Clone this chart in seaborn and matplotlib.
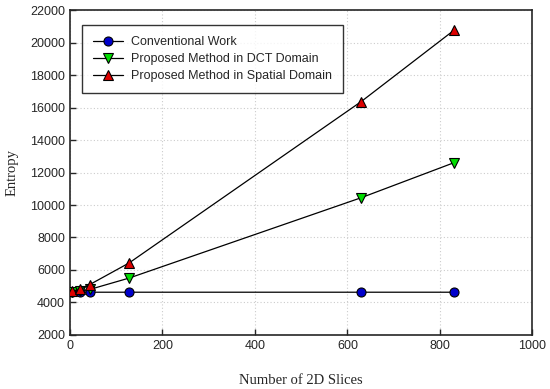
import numpy as np
import pandas as pd
import matplotlib
matplotlib.use("Agg")
import matplotlib.pyplot as plt
import seaborn as sns

# Data
slices = [5, 23, 43, 128, 630, 830]
conventional = [4620, 4630, 4630, 4630, 4630, 4630]
dct_domain = [4620, 4700, 4800, 5500, 10450, 12600]
spatial_domain = [4680, 4800, 5100, 6430, 16370, 20750]

series_names = ["Conventional Work",
                "Proposed Method in DCT Domain",
                "Proposed Method in Spatial Domain"]
series_values = [conventional, dct_domain, spatial_domain]
markers = ["o", "v", "^"]
face_colors = ["#0000cc", "#00dd00", "#dd0000"]

x_ticks = [0, 200, 400, 600, 800, 1000]
y_ticks = list(range(2000, 22001, 2000))

sns.set_style("ticks")
plt.rcParams["font.family"] = ["Liberation Sans", "DejaVu Sans"]

fig, ax = plt.subplots(figsize=(5.5, 3.89), dpi=100)
fig.subplots_adjust(left=0.127, right=0.968, bottom=0.139, top=0.974)

for name, vals, mk, fc in zip(series_names, series_values, markers, face_colors):
    df = pd.DataFrame({"x": slices, "y": vals})
    sns.lineplot(data=df, x="x", y="y", ax=ax, color="black", linewidth=0.9,
                 marker=mk, markersize=6.5, markerfacecolor=fc,
                 markeredgecolor="black", markeredgewidth=0.8,
                 label=name, zorder=3)

ax.set_xlim(0, 1000)
ax.set_ylim(2000, 22000)
ax.set_xticks(x_ticks)
ax.set_yticks(y_ticks)
ax.tick_params(direction="in", length=4, width=1, labelsize=9,
               top=False, right=False)
ax.grid(True, color="#cccccc", linestyle=(0, (1, 2)), linewidth=0.8)
for s in ax.spines.values():
    s.set_linewidth(1.2)
    s.set_visible(True)

ax.set_xlabel("Number of 2D Slices", family=["Liberation Serif"], fontsize=10.5, labelpad=16)
ax.set_ylabel("Entropy", family=["Liberation Serif"], fontsize=10.5, labelpad=8)

leg = ax.legend(loc="upper left", bbox_to_anchor=(0.026, 0.955), fontsize=9,
                frameon=True, fancybox=False, edgecolor="black",
                borderpad=0.9, handlelength=2.4, handletextpad=0.6,
                labelspacing=0.4, borderaxespad=0)
leg.get_frame().set_linewidth(1.0)

fig.savefig("out.png", dpi=100)
